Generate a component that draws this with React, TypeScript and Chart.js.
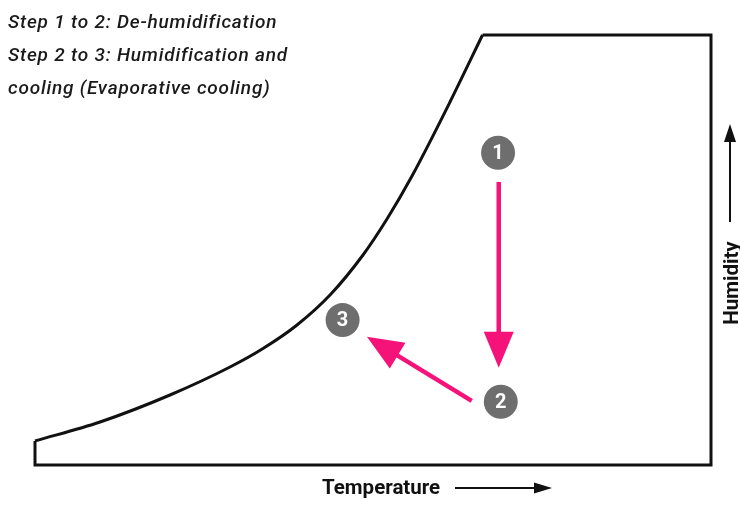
import { useEffect, useRef } from "react";
import { Chart, registerables } from "chart.js";

Chart.register(...registerables);

// Saturation curve (temperature %, humidity %)
const curveTemp = [0, 9.62, 19.97, 28.85, 33.73, 38.76, 43.64, 48.52, 52.07, 55.77, 61.39, 66.2];
const curveHum = [5.6, 10.0, 16.28, 22.79, 27.09, 32.56, 39.53, 48.84, 57.21, 67.21, 84.42, 100];
// Rest of the chart outline
const frameTemp = [66.2, 100, 100, 0, 0];
const frameHum = [100, 100, 0, 0, 5.6];
// Air states
const stateLabels = ["1", "2", "3"];
const stateTemp = [68.5, 68.9, 45.5];
const stateHum = [72.6, 14.7, 33.7];
// Process arrows (1→2, 2→3)
const arrowFromTemp = [68.6, 64.6];
const arrowFromHum = [65.8, 14.9];
const arrowToTemp = [68.6, 49.1];
const arrowToHum = [22.6, 29.8];
// Text
const noteLines = [
  "Step 1 to 2: De-humidification",
  "Step 2 to 3: Humidification and",
  "cooling (Evaporative cooling)",
];
const xTitle = "Temperature";
const yTitle = "Humidity";

const PINK = "#f5137a";
const GREY = "#6e6e6e";

const zip = (xs: number[], ys: number[]) => xs.map((x, i) => ({ x, y: ys[i] }));

function drawArrowHead(ctx: CanvasRenderingContext2D, fx: number, fy: number, tx: number, ty: number, len: number, half: number) {
  const a = Math.atan2(ty - fy, tx - fx);
  const bx = tx - Math.cos(a) * len;
  const by = ty - Math.sin(a) * len;
  const nx = -Math.sin(a);
  const ny = Math.cos(a);
  ctx.beginPath();
  ctx.moveTo(tx, ty);
  ctx.lineTo(bx + nx * half, by + ny * half);
  ctx.lineTo(bx - nx * half, by - ny * half);
  ctx.closePath();
  ctx.fill();
}

const decorPlugin = {
  id: "decor",
  afterDatasetsDraw(chart: any) {
    const ctx: any = chart.ctx;
    const xs = chart.scales.x;
    const ys = chart.scales.y;
    ctx.save();

    // process arrows
    ctx.strokeStyle = PINK;
    ctx.fillStyle = PINK;
    ctx.lineWidth = 4.5;
    ctx.lineCap = "butt";
    for (let i = 0; i < arrowFromTemp.length; i++) {
      const fx = xs.getPixelForValue(arrowFromTemp[i]);
      const fy = ys.getPixelForValue(arrowFromHum[i]);
      const tx = xs.getPixelForValue(arrowToTemp[i]);
      const ty = ys.getPixelForValue(arrowToHum[i]);
      const a = Math.atan2(ty - fy, tx - fx);
      ctx.beginPath();
      ctx.moveTo(fx, fy);
      ctx.lineTo(tx - Math.cos(a) * 25, ty - Math.sin(a) * 25);
      ctx.stroke();
      drawArrowHead(ctx, fx, fy, tx, ty, 36, 15);
    }

    // numbers in state circles
    const meta = chart.getDatasetMeta(2);
    ctx.fillStyle = "#ffffff";
    ctx.font = "bold 20px Roboto, 'DejaVu Sans', sans-serif";
    ctx.textAlign = "center";
    ctx.textBaseline = "middle";
    meta.data.forEach((pt: any, i: number) => {
      ctx.fillText(stateLabels[i], pt.x, pt.y + 1);
    });

    // notes
    ctx.fillStyle = "#1a1a1a";
    ctx.textAlign = "left";
    ctx.textBaseline = "alphabetic";
    ctx.font = "italic 500 19px Roboto, 'DejaVu Sans', sans-serif";
    ctx.letterSpacing = "0.8px";
    noteLines.forEach((t, i) => ctx.fillText(t, 8, 28 + i * 33));
    ctx.letterSpacing = "0px";

    // x title
    ctx.fillStyle = "#111";
    ctx.strokeStyle = "#111";
    ctx.font = "bold 20.5px Roboto, 'DejaVu Sans', sans-serif";
    ctx.fillText(xTitle, 322, 494);
    ctx.lineWidth = 2;
    ctx.beginPath();
    ctx.moveTo(455, 488);
    ctx.lineTo(537, 488);
    ctx.stroke();
    drawArrowHead(ctx, 455, 488, 552, 488, 18, 5.5);

    // y title (rotated)
    ctx.save();
    ctx.translate(738, 283);
    ctx.rotate(-Math.PI / 2);
    ctx.textAlign = "center";
    ctx.fillText(yTitle, 0, 0);
    ctx.restore();
    ctx.beginPath();
    ctx.moveTo(730, 222);
    ctx.lineTo(730, 140);
    ctx.stroke();
    drawArrowHead(ctx, 730, 222, 730, 124, 18, 6);

    ctx.restore();
  },
};

export default function App() {
  const ref = useRef<HTMLCanvasElement | null>(null);
  useEffect(() => {
    if (!ref.current) return;
    const chart = new Chart(ref.current, {
      type: "scatter",
      data: {
        datasets: [
          {
            data: zip(curveTemp, curveHum),
            showLine: true,
            borderColor: "#111",
            borderWidth: 3,
            pointRadius: 0,
            cubicInterpolationMode: "monotone",
            clip: false,
          } as any,
          {
            data: zip(frameTemp, frameHum),
            showLine: true,
            borderColor: "#111",
            borderWidth: 3,
            pointRadius: 0,
            tension: 0,
            clip: false,
            borderJoinStyle: "miter",
          } as any,
          {
            data: zip(stateTemp, stateHum),
            showLine: false,
            pointRadius: 17,
            pointBackgroundColor: GREY,
            pointBorderWidth: 0,
            clip: false,
          } as any,
        ],
      },
      options: {
        animation: false,
        responsive: false,
        events: [],
        layout: { padding: { left: 35, right: 29, top: 35, bottom: 43 } },
        plugins: { legend: { display: false }, tooltip: { enabled: false }, title: { display: false } },
        scales: {
          x: { type: "linear", min: 0, max: 100, display: false },
          y: { type: "linear", min: 0, max: 100, display: false },
        },
      },
      plugins: [decorPlugin],
    });
    return () => chart.destroy();
  }, []);
  return (
    <div style={{ position: "absolute", left: 0, top: 0, width: 740, height: 508, background: "#fff" }}>
      <canvas ref={ref} width={740} height={508} />
    </div>
  );
}
